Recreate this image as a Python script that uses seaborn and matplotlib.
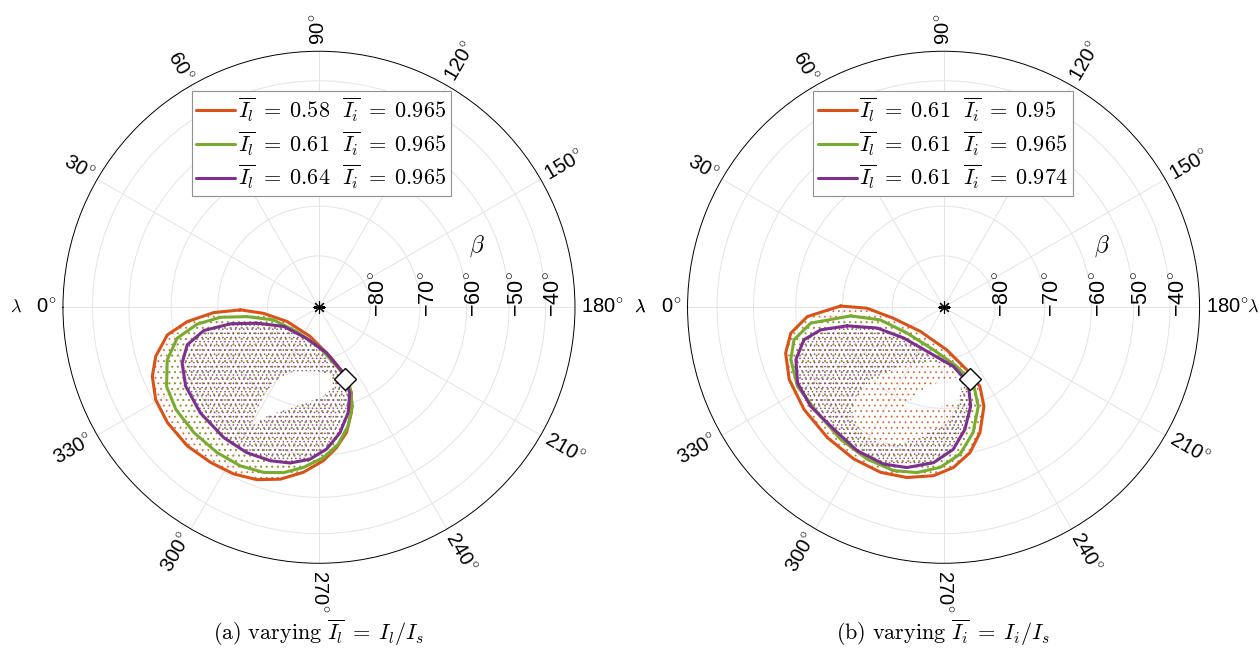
import numpy as np
import matplotlib
matplotlib.use('Agg')
import matplotlib.pyplot as plt
import seaborn as sns
from matplotlib.path import Path
from matplotlib.patches import PathPatch

# ---- data (lambda in deg, beta in deg) ----
# panel (a): varying I_l
A_IL = [0.58, 0.61, 0.64]
A_II = [0.965, 0.965, 0.965]
A_OR_LAM = [358.1, 353.8, 336.1, 287.1, 257.4, 249.0, 249.2, 252.9, 257.6, 262.9, 268.4, 275.4,
            282.7, 289.8, 297.1, 304.9, 313.5, 322.7, 330.5, 337.5, 343.3, 349.7, 353.8, 357.1]
A_OR_BETA = [-74.6, -79.1, -83.2, -84.1, -80.2, -75.9, -72.0, -68.1, -64.3, -61.4, -58.7, -55.9,
             -53.4, -51.7, -50.7, -50.2, -49.7, -49.9, -50.6, -52.4, -54.8, -58.6, -63.4, -69.1]
A_GR_LAM = [352.6, 344.5, 312.5, 268.6, 251.5, 248.7, 251.3, 256.2, 262.0, 268.4, 275.6,
            282.1, 288.5, 296.4, 305.0, 314.9, 324.5, 332.6, 340.9, 347.7, 352.1, 354.2]
A_GR_BETA = [-75.8, -80.8, -83.6, -82.1, -77.1, -73.3, -69.3, -65.6, -62.1, -59.4, -57.0,
             -55.1, -53.9, -53.2, -53.1, -53.2, -53.5, -54.5, -57.1, -60.6, -65.4, -70.4]
A_PU_LAM = [345.6, 331.5, 291.7, 260.5, 249.8, 250.2, 254.5, 260.5, 266.9, 273.4,
            280.5, 287.6, 296.4, 306.1, 318.3, 329.4, 337.8, 344.1, 348.6, 349.4]
A_PU_BETA = [-77.5, -82.2, -83.5, -81.0, -76.3, -72.1, -68.3, -64.5, -61.3, -59.0,
             -57.6, -57.0, -56.7, -56.9, -57.5, -58.4, -60.0, -62.4, -66.6, -72.3]
A_HOLE_LAM = [259.4, 272.1, 291.8, 300.2, 302.1, 301.3, 299.8, 295.6, 287.5, 277.3, 267.2, 260.4]
A_HOLE_BETA = [-76.6, -77.5, -76.5, -73.5, -70.0, -66.1, -62.4, -65.9, -68.8, -71.0, -72.5, -73.9]

# panel (b): varying I_i
B_IL = [0.61, 0.61, 0.61]
B_II = [0.95, 0.965, 0.974]
B_OR_LAM = [360.7, 359.3, 347.6, 314.0, 265.8, 249.7, 245.3, 247.8, 253.8, 259.7, 266.5,
            273.4, 282.2, 290.9, 300.6, 311.7, 323.8, 334.9, 343.8, 350.4, 356.1]
B_OR_BETA = [-69.6, -75.0, -80.0, -83.5, -81.7, -77.0, -72.9, -68.8, -63.8, -60.0, -57.1,
             -55.2, -53.9, -53.3, -53.4, -53.8, -54.2, -54.8, -56.2, -58.4, -62.5]
B_GR_LAM = [354.7, 348.7, 324.8, 283.4, 257.5, 248.6, 250.7, 256.7, 263.6, 271.2,
            279.2, 287.0, 296.7, 308.0, 320.1, 331.6, 341.1, 347.7, 353.2]
B_GR_BETA = [-71.6, -77.4, -81.3, -81.5, -78.2, -74.0, -69.2, -64.2, -60.0, -57.2,
             -55.5, -54.7, -54.9, -55.5, -56.2, -55.8, -56.9, -58.8, -63.1]
B_PU_LAM = [349.1, 342.6, 322.3, 286.4, 260.6, 251.9, 254.7, 260.1, 266.1, 273.7,
            282.9, 290.9, 301.0, 311.9, 323.3, 332.6, 340.5, 346.9, 349.6]
B_PU_BETA = [-70.6, -76.4, -80.2, -80.7, -78.3, -74.4, -69.7, -65.2, -61.2, -58.2,
             -56.2, -55.4, -55.5, -56.3, -55.9, -56.2, -58.0, -61.0, -65.0]
B_HOLE_OR_LAM = [255.3, 272.7, 287.3, 291.2, 282.9, 270.1, 259.9, 255.1]
B_HOLE_OR_BETA = [-76.0, -75.5, -72.3, -69.0, -69.2, -70.5, -71.5, -73.6]
B_HOLE_IN_LAM = [314.2, 315.3, 306.2, 280.6, 258.1, 256.6, 261.2, 268.4, 281.4, 292.2, 301.8, 310.0]
B_HOLE_IN_BETA = [-64.2, -69.6, -75.7, -79.3, -77.6, -74.7, -70.9, -67.0, -62.9, -59.6, -59.2, -61.3]

START_LAM, START_BETA = 250.0, -75.0
RTICKS = [-80, -70, -60, -50, -40]
LAM_TICKS = list(range(0, 360, 30))

COLORS = ['#D95319', '#77AC30', '#7E2F8E']
HATCHES = ['...', '...', '....']

sns.set_theme(style='white')
plt.rcParams['font.family'] = ['Liberation Sans', 'DejaVu Sans']
plt.rcParams['mathtext.fontset'] = 'cm'
plt.rcParams['hatch.linewidth'] = 0.6
plt.rcParams['text.color'] = 'black'


def fwd(b):
    return np.cos(np.radians(np.clip(b, -90, 90)))


def inv(r):
    return -np.degrees(np.arccos(np.clip(r, -1, 1)))


def closed(lam, beta):
    t = np.radians(np.r_[lam, lam[0]])
    return t, np.r_[beta, beta[0]]


def orient(t, b):
    r = fwd(b)
    x, y = r * np.cos(t), r * np.sin(t)
    return np.sign(np.sum(x[:-1] * y[1:] - x[1:] * y[:-1]))


def cloud(ax, outer, hole, color, hatch):
    to, bo = closed(*outer)
    th, bh = closed(*hole)
    vo = np.column_stack([to, bo])
    vh = np.column_stack([th, bh])
    if orient(to, bo) == orient(th, bh):
        vh = vh[::-1]
    verts = np.vstack([vo, vh])
    codes = ([Path.MOVETO] + [Path.LINETO] * (len(vo) - 2) + [Path.CLOSEPOLY]
             + [Path.MOVETO] + [Path.LINETO] * (len(vh) - 2) + [Path.CLOSEPOLY])
    patch = PathPatch(Path(verts, codes), transform=ax.transData, facecolor='none',
                      edgecolor=color, hatch=hatch, lw=0, alpha=0.8, zorder=1)
    ax.add_patch(patch)


def setup(ax, lam_right, lam_right_ha):
    ax.set_theta_zero_location('W')
    ax.set_theta_direction(-1)
    ax.set_rscale('function', functions=(fwd, inv))
    ax.set_rlim(-90, -30)
    ax.set_thetagrids(LAM_TICKS, labels=[''] * len(LAM_TICKS))
    ax.set_rgrids(RTICKS, labels=[''] * len(RTICKS))
    ax.grid(True, color='#e4e4e4', lw=0.7)
    ax.spines['polar'].set_color('black')
    ax.spines['polar'].set_linewidth(0.7)
    ax.set_facecolor('white')

    for lam in LAM_TICKS:
        a = ((180 - lam) + 180) % 360 - 180
        if a > 90:
            rot, ha = a - 180, 'right'
        elif a < -90:
            rot, ha = a + 180, 'right'
        else:
            rot, ha = a, 'left'
        d = 4.5
        ax.annotate(f'{lam}$^{{\\circ}}$', xy=(np.radians(lam), -30),
                    xytext=(d * np.cos(np.radians(a)), d * np.sin(np.radians(a))),
                    textcoords='offset points', rotation=rot, rotation_mode='anchor',
                    ha=ha, va='center', fontsize=14.5, annotation_clip=False)

    for b in RTICKS:
        ax.annotate(f'\u2212{abs(b)}$^{{\\circ}}$', xy=(np.pi, b), xytext=(6.5, -7),
                    textcoords='offset points', rotation=90, rotation_mode='anchor',
                    ha='left', va='center', fontsize=15.5, annotation_clip=False)

    ax.annotate(r'$\lambda$', xy=(0, -30), xytext=(-34, 0), textcoords='offset points',
                ha='center', va='center', fontsize=13, annotation_clip=False)
    ax.annotate(r'$\lambda$', xy=(np.pi, -30), xytext=(lam_right, 0), textcoords='offset points',
                ha=lam_right_ha, va='center', fontsize=13, annotation_clip=False)
    ax.text(np.radians(159), -55, r'$\beta$', ha='center', va='center', fontsize=17)


def panel(ax, curves, holes, il, ii, legx, lam_right, lam_right_ha):
    setup(ax, lam_right, lam_right_ha)
    for (lam, beta), hole, c, h in zip(curves, holes, COLORS, HATCHES):
        cloud(ax, (lam, beta), hole, c, h)
    for (lam, beta), c, a, b in zip(curves, COLORS, il, ii):
        t, bb = closed(lam, beta)
        sns.lineplot(x=t, y=bb, sort=False, estimator=None, color=c, lw=2.2, ax=ax, zorder=3,
                     label=rf'$\overline{{I_l}}\;=\;{a}\ \ \overline{{I_i}}\;=\;{b}$')
    for line in ax.get_lines():
        line.set_solid_joinstyle('round')
    ax.plot(0, -90, marker=(8, 2, 0), ms=9, color='black', mew=0.8, zorder=5)
    ax.plot(np.radians(START_LAM), START_BETA, marker='D', ms=11, mfc='white', mec='black',
            mew=1.0, zorder=6)
    ax.set_xlabel('')
    ax.set_ylabel('')
    leg = ax.legend(loc='upper center', bbox_to_anchor=(legx, 0.9225), borderaxespad=0,
                    fontsize=16, frameon=True, fancybox=False, framealpha=1,
                    edgecolor='#909090', handlelength=1.75, handletextpad=0.1,
                    labelspacing=0.25, borderpad=0.22)
    leg.get_frame().set_linewidth(0.8)
    leg.set_zorder(10)


fig = plt.figure(figsize=(12.59, 6.53), dpi=100)
ax1 = fig.add_axes([0.0500, 0.1374, 0.4067, 0.7841], projection='polar')
ax2 = fig.add_axes([0.5461, 0.1374, 0.4067, 0.7841], projection='polar')

panel(ax1, [(A_OR_LAM, A_OR_BETA), (A_GR_LAM, A_GR_BETA), (A_PU_LAM, A_PU_BETA)],
      [(A_HOLE_LAM, A_HOLE_BETA)] * 3, A_IL, A_II, 0.504, 47, 'center')
panel(ax2, [(B_OR_LAM, B_OR_BETA), (B_GR_LAM, B_GR_BETA), (B_PU_LAM, B_PU_BETA)],
      [(B_HOLE_OR_LAM, B_HOLE_OR_BETA), (B_HOLE_IN_LAM, B_HOLE_IN_BETA),
       (B_HOLE_IN_LAM, B_HOLE_IN_BETA)], B_IL, B_II, 0.499, 42.8, 'right')

fig.text(319 / 1259, 1 - 633 / 653,
         r'$\mathrm{(a)\ varying}\ \overline{I_l}\;=\;I_l/I_s$',
         ha='center', va='center', fontsize=16)
fig.text(943 / 1259, 1 - 633 / 653,
         r'$\mathrm{(b)\ varying}\ \overline{I_i}\;=\;I_i/I_s$',
         ha='center', va='center', fontsize=16)

fig.savefig('out.png', dpi=100, facecolor='white')
